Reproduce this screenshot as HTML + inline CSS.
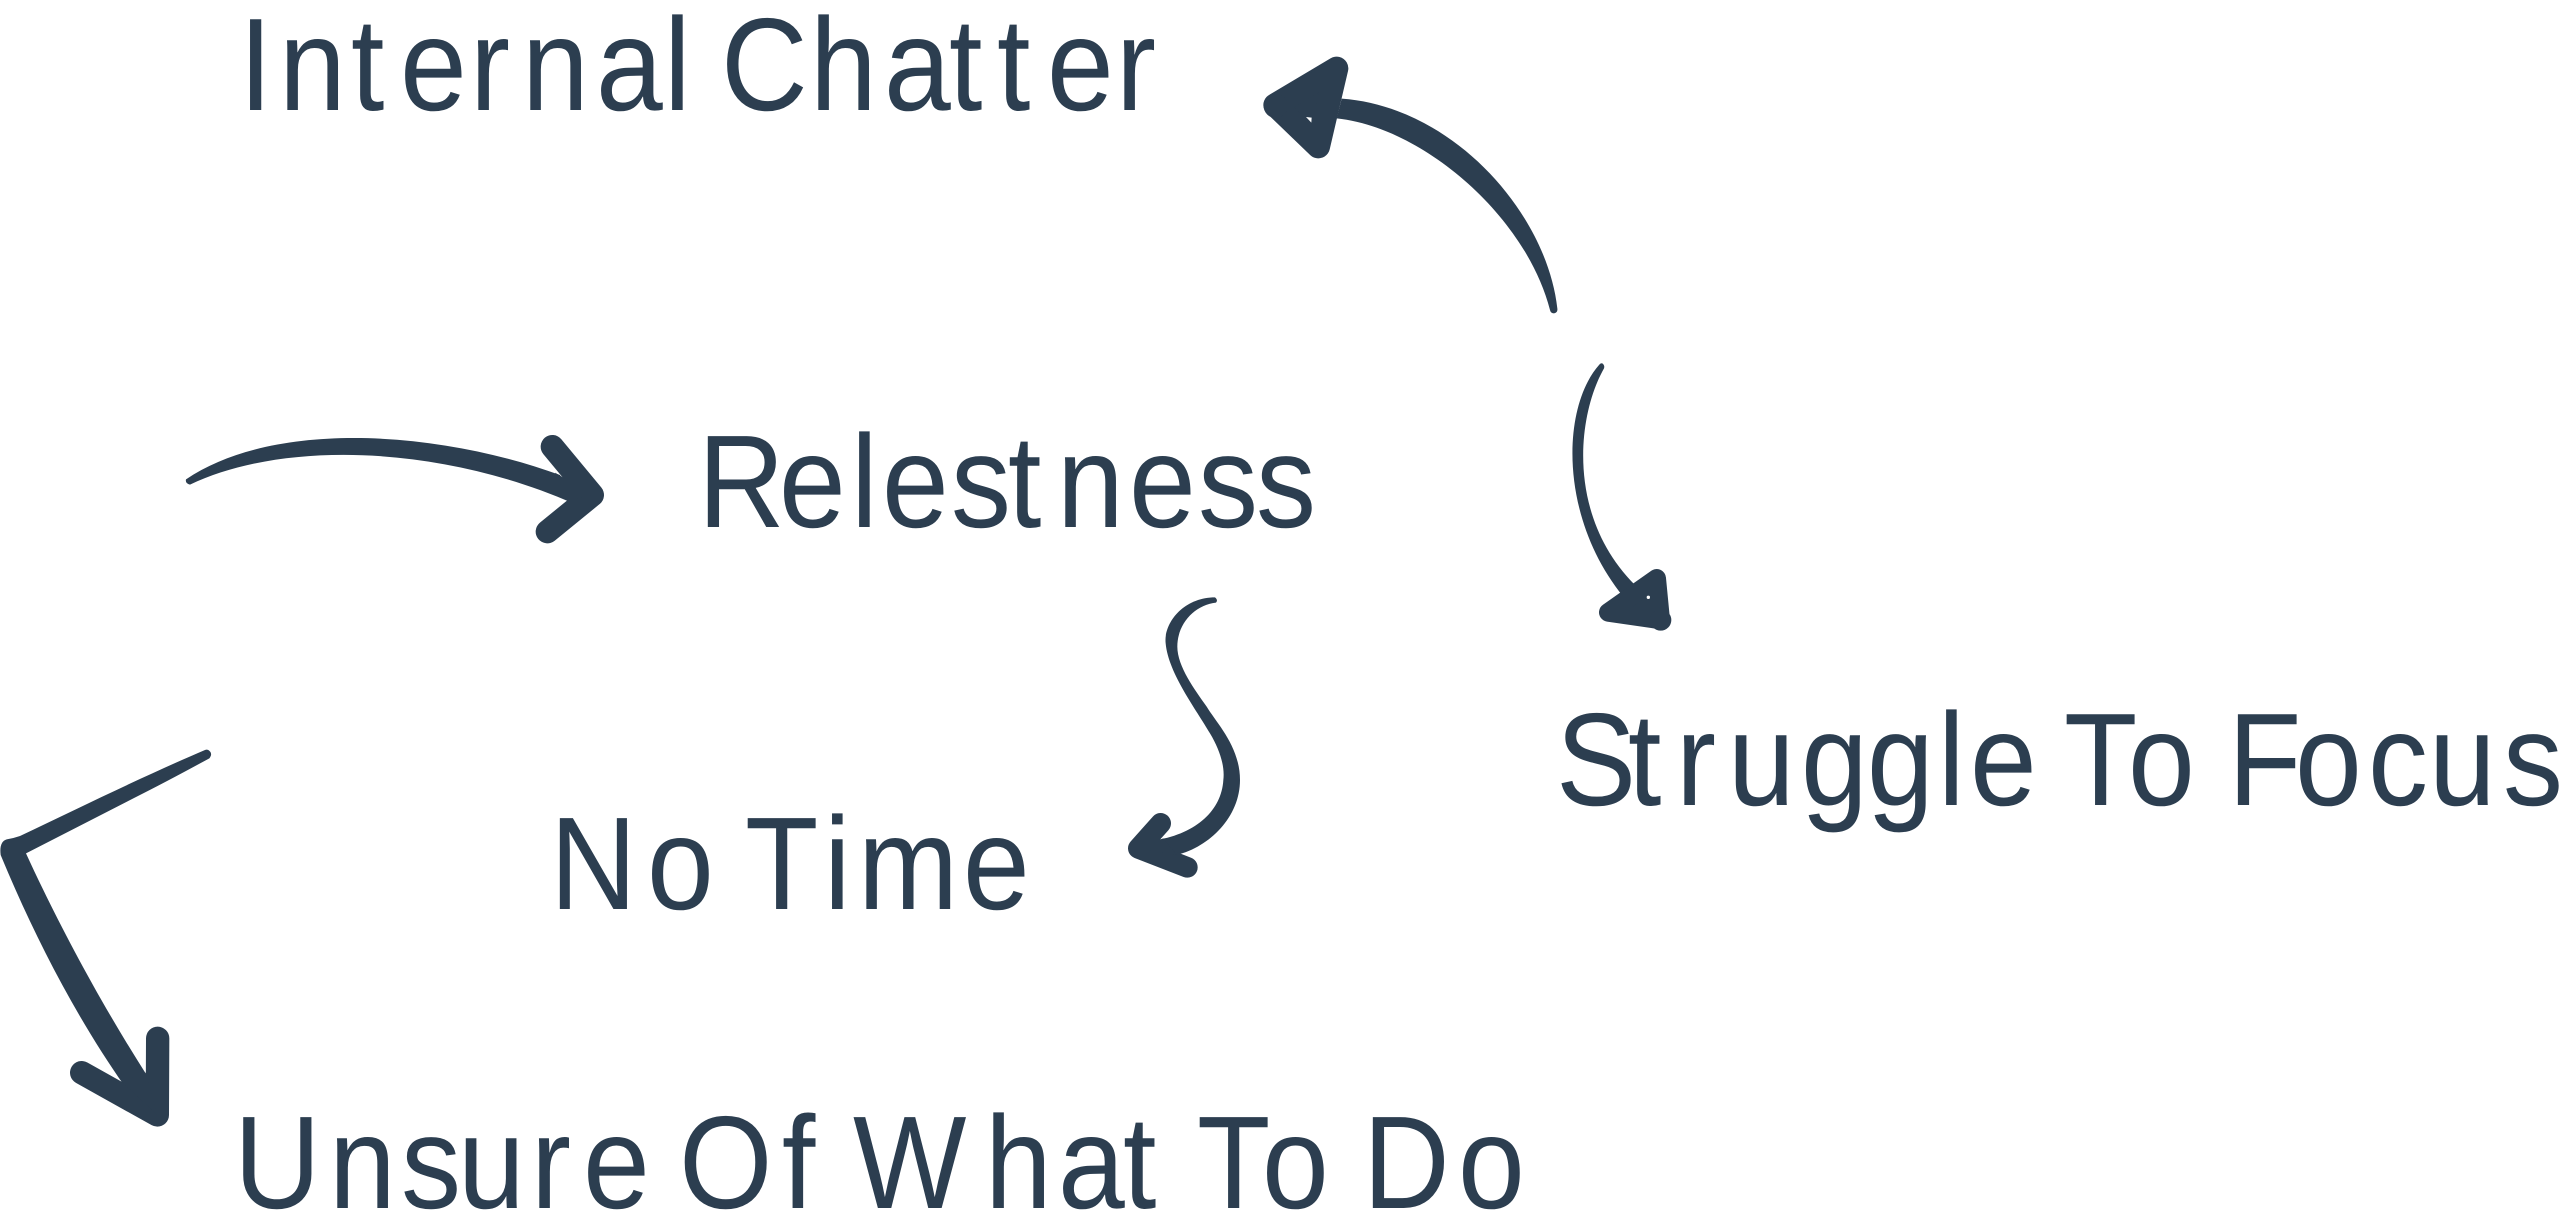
<!DOCTYPE html>
<html><head><meta charset="utf-8"><style>
html,body{margin:0;padding:0;background:#fff;width:2560px;height:1231px;overflow:hidden}
svg{display:block}
text{font-family:"Liberation Sans",sans-serif;font-size:132px;fill:#2c3e50}
</style></head><body>
<svg width="2560" height="1231" viewBox="0 0 2560 1231" xmlns="http://www.w3.org/2000/svg">
<rect width="2560" height="1231" fill="#fff"/>
<g transform="scale(.91,1)">
<text y="110" x="262.6 306.6 385.7 439.6 516.5 573.6 654.9 729.7 1 792.3 890.1 971.4 1042.9 1095.6 1150.5 1226.4">Internal Chatter</text>
<text y="527" x="767 856 935.2 969.2 1045 1107.7 1161.5 1240.7 1316.5 1380.2">Relestness</text>
<text y="805" x="1709.9 1789 1841.8 1898.9 1979.1 2051.6 2129.7 2164.8 2241.8 2268.1 2338.5 2428.6 2448.4 2522 2602.2 2669.2 2750.5">Struggle To Focus</text>
<text y="909" x="604.4 711 791.2 818.7 905.5 942.9 1058.2">No Time</text>
<text y="1208" x="257.1 361.5 440.7 503.3 583.5 640.7 714.3 746.2 859.3 912.1 937.4 1082.4 1162.6 1234.1 1285.7 1315.4 1386.8 1472.5 1497.8 1602.2">Unsure Of What To Do</text>
</g>

<g fill="#2c3e50" stroke="none">
<g transform="translate(1200,0) scale(.33333)">
<path d="M1072,925 C1040,640 760,320 425,296 L410,355 C660,380 975,640 1050,930 Q1052,940 1062,940 Q1074,938 1072,925 Z"/>
<path d="M410,205 L355,440 L225,315 Z" stroke="#2c3e50" stroke-width="70" stroke-linejoin="round"/>
<circle cx="227" cy="318" r="36"/>
<path d="M318,351 L335,353 L334,368 Z" fill="#fff"/>
</g>
<g transform="translate(1540,340) scale(.33333)">
<path d="M178,74 C65,200 55,530 250,770 L285,735 C80,530 110,230 192,85 Q195,76 187,70 Q181,69 178,74 Z"/>
<path d="M350,715 L362,840 L205,817 Z" stroke="#2c3e50" stroke-width="56" stroke-linejoin="round"/>
<circle cx="362" cy="840" r="32"/>
<circle cx="325" cy="772" r="5" fill="#fff"/>
</g>
<g transform="translate(160,410) scale(.33333)">
<path d="M78,208 C340,30 830,60 1200,195 L1240,280 C840,105 370,90 90,224 Q75,220 78,208 Z"/>
<path d="M1177,110 L1297,255 L1162,365" fill="none" stroke="#2c3e50" stroke-width="70" stroke-linecap="round" stroke-linejoin="round"/>
<path d="M1185,188 L1297,255 L1225,272 Z"/>
</g>
<g transform="translate(1100,580) scale(.33333)">
<path d="M345,52 C250,52 190,130 197,190 C205,280 290,390 330,460 C360,510 375,560 370,600 C365,690 290,760 170,780 L170,815 L230,825 C330,800 420,710 420,600 C420,500 350,430 320,380 C285,330 232,260 232,200 C232,130 285,75 348,68 Q355,60 345,52 Z"/>
<path d="M182,730 L115,805 L262,862" fill="none" stroke="#2c3e50" stroke-width="62" stroke-linecap="round" stroke-linejoin="round"/>
<path d="M190,775 L115,805 L230,825 Z"/>
</g>
<g transform="translate(0,740) scale(.33333)">
<path d="M615,30 C450,100 250,197 60,288 Q40,295 20,298 Q-3,305 2,345 C95,570 220,820 375,1040 L460,1020 L440,1005 C290,770 165,530 78,340 L400,175 Q500,125 628,55 Q640,40 625,30 Q620,28 615,30 Z"/>
<path d="M473,895 L472,1125 L245,998" fill="none" stroke="#2c3e50" stroke-width="70" stroke-linecap="round" stroke-linejoin="round"/>
<path d="M365,1025 L472,1125 L437,998 Z"/>
</g>
</g>
</svg>
</body></html>
